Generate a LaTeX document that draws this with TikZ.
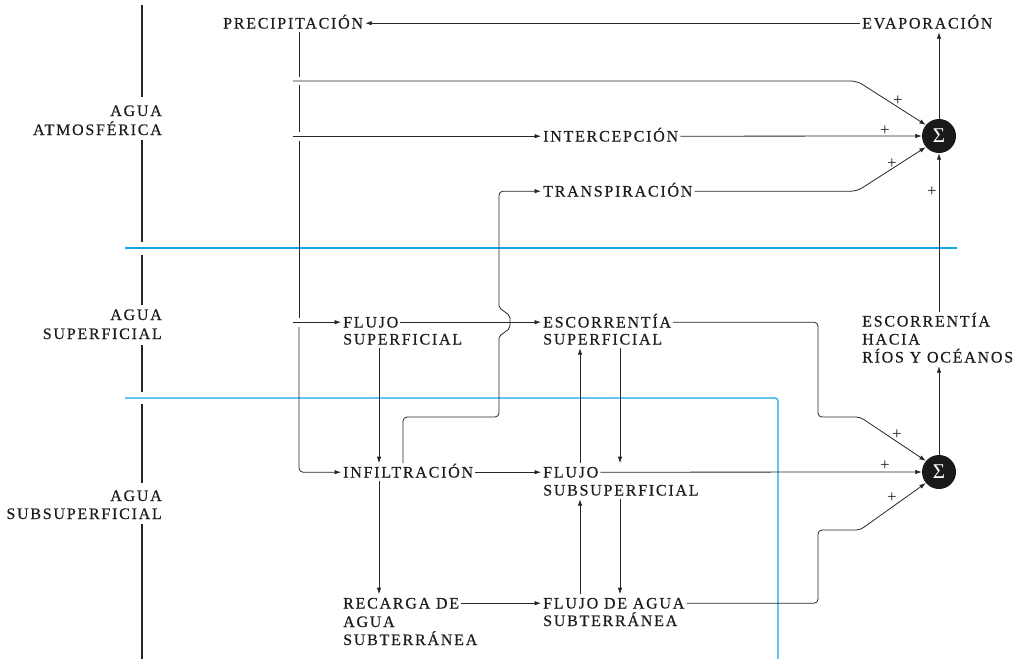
\documentclass[tikz,border=0pt]{standalone}
\usepackage{fontspec}
\setmainfont{Liberation Serif}
\newfontfamily\spacedfont[LetterSpace=11,FakeBold=0.4]{Liberation Serif}
\usetikzlibrary{arrows.meta,calc}
\definecolor{txt}{HTML}{1c1c1c}
\definecolor{ln}{HTML}{262626}
\definecolor{sky}{RGB}{20,165,230}
\begin{document}
\begin{tikzpicture}[x=1pt,y=-1pt,
 lbl/.style={inner xsep=2pt, inner ysep=3.5pt, text height=10.6pt, text depth=0pt, font=\spacedfont\fontsize{16}{18}\selectfont, text=txt},
 lw/.style={lbl, anchor=base west},
 le/.style={lbl, anchor=base east},
 conn/.style={draw=ln, line width=0.8pt},
 flow/.style={conn, -{Latex[length=6.5pt,width=4.5pt]}},
 sumnode/.style={circle, fill=black!90, text=white, minimum size=34pt, inner sep=0pt, font=\fontsize{21}{21}\selectfont},
 plus/.style={text=txt, font=\fontsize{17}{17}\selectfont, inner sep=0pt},
 divider/.style={draw=ln, line width=1.8pt},
 blueline/.style={draw=sky, line width=1.2pt},
]
\useasboundingbox (0,0) rectangle (1021,659);

% left dividers and zone labels
\draw[divider] (142,5) -- (142,97);
\draw[divider] (142,140) -- (142,242);
\draw[divider] (142,255) -- (142,305);
\draw[divider] (142,345) -- (142,392);
\draw[divider] (142,404) -- (142,483);
\draw[divider] (142,524) -- (142,659);
\node[le] (atm1) at (164,116) {AGUA};
\node[le] (atm2) at (164,135) {ATMOSFÉRICA};
\node[le] (sup1) at (164,320) {AGUA};
\node[le] (sup2) at (164,339) {SUPERFICIAL};
\node[le] (sub1) at (164,501) {AGUA};
\node[le] (sub2) at (164,519) {SUBSUPERFICIAL};

% blue zone lines
\draw[blueline] (125,248) -- (957,248);
\draw[blueline, rounded corners=3pt] (125,398) -- (778,398) -- (778,659);

% nodes
\node[lw] (prec) at (221,28.5) {PRECIPITACIÓN};
\node[lw] (evap) at (860,28.5) {EVAPORACIÓN};
\node[lw] (interc) at (541,141.5) {INTERCEPCIÓN};
\node[lw] (transp) at (541,196.5) {TRANSPIRACIÓN};
\node[lw] (fs1) at (341,327.5) {FLUJO};
\node[lw] (fs2) at (341,344.5) {SUPERFICIAL};
\node[lw] (es1) at (541,327.5) {ESCORRENTÍA};
\node[lw] (es2) at (541,344.5) {SUPERFICIAL};
\node[lw] (escrios1) at (860,326.5) {ESCORRENTÍA};
\node[lw] (escrios2) at (860,344.5) {HACIA};
\node[lw] (escrios3) at (860,362.5) {RÍOS Y OCÉANOS};
\node[lw] (infil) at (341,477.5) {INFILTRACIÓN};
\node[lw] (fsub1) at (541,477.5) {FLUJO};
\node[lw] (fsub2) at (541,495.5) {SUBSUPERFICIAL};
\node[lw] (rec1) at (341,608.5) {RECARGA DE};
\node[lw] (rec2) at (341,627) {AGUA};
\node[lw] (rec3) at (341,645) {SUBTERRÁNEA};
\node[lw] (fa1) at (541,608.5) {FLUJO DE AGUA};
\node[lw] (fa2) at (541,626) {SUBTERRÁNEA};
\node[sumnode] (sum1) at (939,136) {Σ};
\node[sumnode] (sum2) at (939,472) {Σ};

% helper coordinates
\coordinate (pv) at (299,0);
\coordinate (bx) at (293,0);
\coordinate (b1) at (293,81);
\coordinate (k1) at (857,81);
\coordinate (kx) at (857,0);
\coordinate (tx) at (403,0);
\coordinate (ty) at (0,417);
\coordinate (tj) at (499,0);
\coordinate (c1) at (818,0);
\coordinate (c2) at (0,417);
\coordinate (c3) at (860,0);
\coordinate (c4) at (0,530);
\coordinate (vx) at (379,0);
\coordinate (dx) at (620,0);
\coordinate (ux) at (580,0);

% top flows
\draw[flow] (evap.west) -- (prec.east);
\draw[flow] (sum1.north) -- (sum1 |- evap.south);
\draw[conn] (pv |- prec.south) -- (299,77);
\draw[conn] (299,85) -- (299,132);
\draw[conn] (299,141) -- (299,318);
\draw[flow, rounded corners=4pt] (299,327) -- (pv |- infil.west) -- (infil.west);
\draw[flow, rounded corners=6pt] (b1) -- (k1) -- (sum1.140);
\draw[flow] (bx |- interc.west) -- (interc.west);
\draw[flow] (interc.east) -- (sum1.west);
\draw[flow, rounded corners=6pt] (transp.east) -- (kx |- transp.east) -- (sum1.220);
\draw[flow] (sum1 |- escrios1.north) -- (sum1.south);

% transpiration path with jump
\draw[flow, rounded corners=4pt] (tx |- infil.north) -- (tx |- ty) -- (tj |- ty) -- (499,342)
  .. controls (499,334) and (510,331) .. (510,322)
  .. controls (510,313) and (499,310) .. (499,302)
  -- (tj |- transp.west) -- (transp.west);

% surface flows
\draw[flow] (bx |- fs1.west) -- (fs1.west);
\draw[flow] (fs1.east) -- (es1.west);
\draw[flow, rounded corners=4pt] (es1.east) -- (c1 |- es1.east) -- (c1 |- c2) -- (c3 |- c2) -- (sum2.140);
\draw[flow] (vx |- fs2.south) -- (vx |- infil.north);

% subsurface flows
\draw[flow] (infil.east) -- (fsub1.west);
\draw[flow] (fsub1.east) -- (sum2.west);
\draw[flow] (dx |- es2.south) -- (dx |- fsub1.north);
\draw[flow] (ux |- fsub1.north) -- (ux |- es2.south);
\draw[flow] (vx |- infil.south) -- (vx |- rec1.north);
\draw[flow] (dx |- fsub2.south) -- (dx |- fa1.north);
\draw[flow] (ux |- fa1.north) -- (ux |- fsub2.south);
\draw[flow] (rec1.east) -- (fa1.west);
\draw[flow, rounded corners=4pt] (fa1.east) -- (c1 |- fa1.east) -- (c1 |- c4) -- (c3 |- c4) -- (sum2.220);
\draw[flow] (sum2.north) -- (sum2 |- escrios3.south);

% plus signs
\node[plus] (p1) at (898,101) {+};
\node[plus] (p2) at (885,131) {+};
\node[plus] (p3) at (892,164) {+};
\node[plus] (p4) at (932,192) {+};
\node[plus] (p5) at (897,435) {+};
\node[plus] (p6) at (885,466) {+};
\node[plus] (p7) at (892,498) {+};
\end{tikzpicture}
\end{document}
